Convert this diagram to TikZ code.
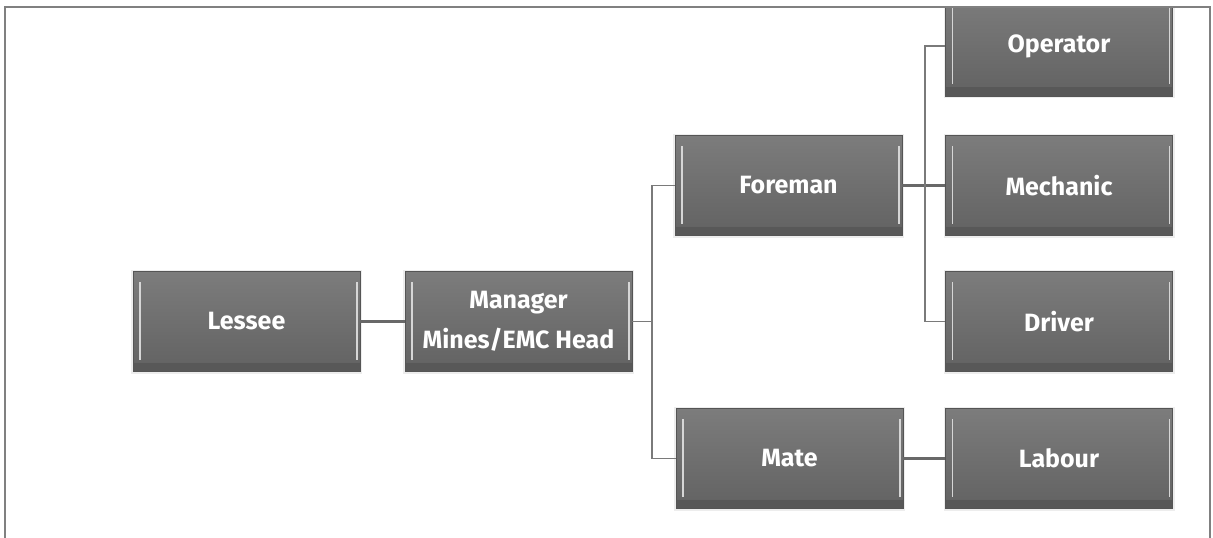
\documentclass[tikz,border=0pt]{standalone}
\usepackage{fontspec}
\setmainfont{Fira Sans}
\definecolor{boxtop}{HTML}{7C7C7C}
\definecolor{boxbot}{HTML}{626262}
\definecolor{boxband}{HTML}{585858}
\definecolor{boxedge}{HTML}{555555}
\definecolor{hilite}{HTML}{D6D6D6}
\definecolor{glow}{HTML}{EDEDED}
\definecolor{linec}{HTML}{7A7A7A}
\definecolor{framec}{HTML}{808080}
\tikzset{
  orgbox/.style={minimum width=227pt, minimum height=100pt, inner sep=0pt,
    top color=boxtop, bottom color=boxbot, draw=boxedge, line width=0.6pt,
    text=white, align=center,
    font=\fontsize{25}{40}\bfseries\selectfont,
    preaction={draw=glow, line width=4pt},
    path picture={
      \fill[boxband] (path picture bounding box.south west) rectangle ([yshift=9pt]path picture bounding box.south east);
      \draw[hilite, line width=1.6pt] ([xshift=7pt,yshift=12pt]path picture bounding box.south west) -- ([xshift=7pt,yshift=-10pt]path picture bounding box.north west);
      \draw[hilite, line width=1.6pt] ([xshift=-3pt,yshift=12pt]path picture bounding box.south east) -- ([xshift=-3pt,yshift=-10pt]path picture bounding box.north east);
    }},
  conn/.style={draw=linec, line width=1.5pt},
  connthick/.style={draw=linec!85!black, line width=2.6pt}
}
\begin{document}
\begin{tikzpicture}[x=1pt,y=-1pt]
\useasboundingbox (0,0) rectangle (1213,538);
\begin{scope}
\clip (5,7) rectangle (1210,538);
\node[orgbox] (lessee)   at (246.5,321.5) {Lessee};
\node[orgbox] (manager)  at (518.5,321.5) {Manager\\Mines/EMC Head};
\node[orgbox] (foreman)  at (788.5,185.5) {Foreman};
\node[orgbox] (mate)     at (789.5,458.5) {Mate};
\node[orgbox] (operator) at (1059,46)     {Operator};
\node[orgbox] (mechanic) at (1059,185.5)  {Mechanic};
\node[orgbox] (driver)   at (1059,321.5)  {Driver};
\node[orgbox] (labour)   at (1059,458.5)  {Labour};
\coordinate (b1) at (652,321.5);
\coordinate (b2) at (925,185.5);
\draw[connthick] (lessee.east) -- (manager.west);
\draw[conn] (manager.east) -- (b1);
\draw[conn] (foreman.west) -| (b1) |- (mate.west);
\draw[connthick] (foreman.east) -- (mechanic.west);
\draw[conn] (operator.west) -| (b2) |- (driver.west);
\draw[connthick] (mate.east) -- (labour.west);
\end{scope}
\draw[framec, line width=1.6pt] (5,538) -- (5,7) -- (1210,7) -- (1210,538);
\end{tikzpicture}
\end{document}
